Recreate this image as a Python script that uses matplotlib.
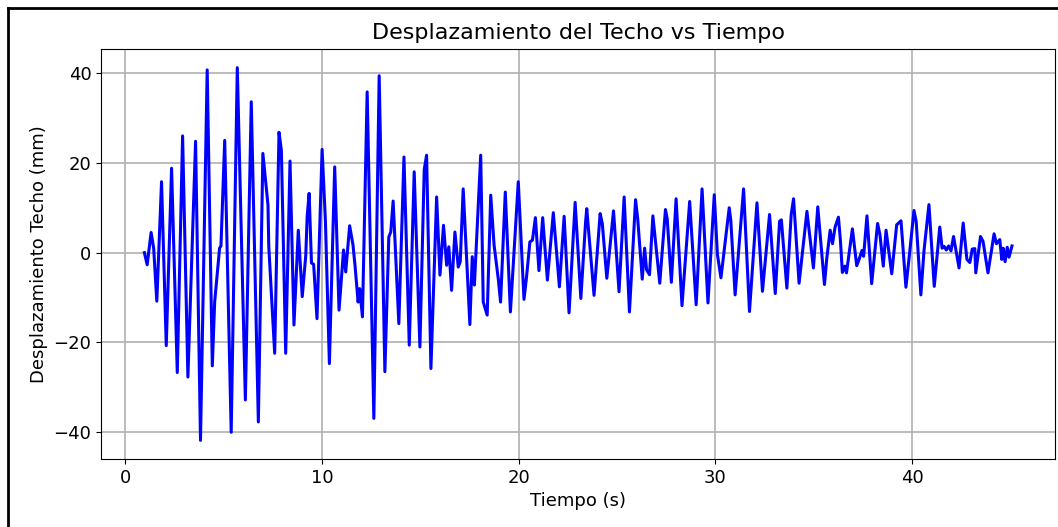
import matplotlib
matplotlib.use('Agg')
import matplotlib.pyplot as plt
from matplotlib.lines import Line2D

# picos y valles (s, mm)
tiempo = [0.98, 1.12, 1.32, 1.45, 1.61, 1.85, 2.09, 2.36, 2.65, 2.92, 3.19, 3.58, 3.83,
          4.17, 4.43, 4.55, 4.80, 4.87, 5.06, 5.39, 5.70, 6.11, 6.41, 6.77,
          7.00, 7.26, 7.30, 7.60, 7.82, 7.94, 8.16, 8.38, 8.58, 8.80, 9.00, 9.18, 9.25,
          9.35, 9.47, 9.58, 9.75, 10.01, 10.18, 10.38, 10.65, 10.87, 11.10, 11.21,
          11.41, 11.58, 11.69, 11.84, 11.92, 12.06, 12.30, 12.64, 12.91, 13.20,
          13.40, 13.50, 13.62, 13.91, 14.17, 14.44, 14.69, 14.98, 15.20, 15.32, 15.54,
          15.83, 16.00, 16.18, 16.34, 16.45, 16.59, 16.76, 16.93, 17.03, 17.18,
          17.52, 17.64, 17.75, 18.07, 18.20, 18.40, 18.58, 18.75, 18.97, 19.08,
          19.32, 19.58, 19.98, 20.27, 20.40, 20.57, 20.70, 20.85, 20.95, 21.03,
          21.22, 21.46, 21.76, 22.07, 22.31, 22.56, 22.87, 23.16, 23.40, 23.46,
          23.83, 24.14, 24.25, 24.48, 24.82, 25.10, 25.36, 25.63, 25.94, 26.05,
          26.28, 26.40, 26.50, 26.65, 26.82, 27.17, 27.46, 27.55, 27.76, 28.00,
          28.30, 28.69, 29.02, 29.32, 29.62, 29.94, 30.10, 30.28, 30.70, 30.78,
          31.00, 31.43, 31.73, 32.11, 32.39, 32.75, 33.04, 33.26, 33.35, 33.63,
          33.85, 33.97, 34.25, 34.65, 34.98, 35.20, 35.54, 35.66, 35.83, 35.95,
          36.08, 36.25, 36.35, 36.45, 36.58, 36.66, 36.96, 37.18, 37.30, 37.45,
          37.53, 37.70, 37.94, 38.24, 38.36, 38.53, 38.67, 38.96, 39.21, 39.43,
          39.68, 39.85, 40.09, 40.20, 40.44, 40.60, 40.85, 41.12, 41.40, 41.52,
          41.62, 41.73, 41.85, 41.97, 42.10, 42.38, 42.59, 42.78, 42.93, 43.05,
          43.18, 43.23, 43.47, 43.60, 43.85, 44.16, 44.28, 44.45, 44.55, 44.62,
          44.72, 44.83, 44.92, 45.07]
desplazamiento = [0.0, -2.7, 4.5, 1.0, -10.8, 15.8, -20.7, 18.8, -26.7, 26.0, -27.7, 24.8, -41.8,
                  40.7, -25.2, -11.0, 1.0, 1.5, 25.0, -40.0, 41.2, -32.8, 33.6, -37.7,
                  22.1, 10.6, 1.4, -22.4, 26.8, 22.8, -22.4, 20.4, -16.1, 5.0, -9.8, -0.6, 8.0,
                  13.2, -2.3, -2.6, -14.7, 23.0, 6.9, -24.7, 19.1, -12.8, 0.6, -4.3,
                  6.0, 1.7, -3.2, -11.0, -8.0, -14.3, 35.8, -36.9, 39.4, -26.5,
                  3.5, 4.6, 11.5, -15.8, 21.3, -20.6, 18.0, -21.0, 18.5, 21.7, -25.8,
                  12.4, -5.0, 6.1, -2.8, 1.3, -8.4, 4.6, -3.2, -2.0, 14.2,
                  -16.0, -0.9, -7.2, 21.7, -11.0, -13.9, 12.8, 1.7, -6.1, -11.0,
                  13.5, -13.2, 15.8, -10.4, -5.4, 2.4, 2.8, 7.8, 1.3, -4.0,
                  7.8, -6.1, 8.9, -7.6, 8.1, -13.4, 11.2, -10.2, 6.8, 9.8,
                  -9.5, 8.7, 6.5, -5.7, 9.3, -8.7, 12.4, -13.2, 11.8, 7.5,
                  -5.9, 1.0, -3.8, -4.9, 8.2, -6.8, 9.6, 7.5, -6.6, 12.0,
                  -11.8, 11.4, -11.6, 14.2, -11.2, 12.9, -0.4, -5.6, 10.0, 7.2,
                  -9.4, 14.2, -13.1, 11.1, -8.6, 8.5, -9.1, 7.0, 7.3, -7.9,
                  8.5, 12.0, -6.8, 9.2, -3.4, 10.2, -7.1, -1.2, 5.0, 2.0,
                  5.7, 7.9, 2.8, -4.4, -3.0, -4.5, 5.3, -2.9, -1.5, 0.5,
                  -0.8, 8.2, -6.9, 6.5, 4.0, -3.0, 5.0, -4.7, 6.2, 7.1,
                  -7.7, -0.8, 9.4, 7.0, -9.4, 0.5, 10.7, -7.5, 5.7, 1.0,
                  1.4, 0.6, 1.5, 0.4, 3.6, -3.4, 6.6, -1.5, -2.2, 0.8,
                  0.9, -4.5, 3.6, 2.5, -4.5, 4.2, 2.0, 2.9, -1.5, 1.0,
                  -2.0, 1.2, -1.0, 1.5]

fig = plt.figure(figsize=(10.58, 5.27), dpi=100)
ax = fig.add_axes([0.0955, 0.129, 0.902, 0.778])

ax.plot(tiempo, desplazamiento, color='blue', linewidth=2.2)
ax.set_title('Desplazamiento del Techo vs Tiempo', fontsize=16, pad=7)
ax.set_xlabel('Tiempo (s)', fontsize=13)
ax.set_ylabel('Desplazamiento Techo (mm)', fontsize=13)
ax.tick_params(labelsize=13)
ax.grid(True, linewidth=1.2)

# marco exterior
fig.add_artist(Line2D([7.5 / 1058, 7.5 / 1058], [0, 1 - 7.5 / 527], color='black', linewidth=2, transform=fig.transFigure))
fig.add_artist(Line2D([7.5 / 1058, 1], [1 - 7.5 / 527, 1 - 7.5 / 527], color='black', linewidth=2, transform=fig.transFigure))

fig.savefig('out.png', dpi=100)
